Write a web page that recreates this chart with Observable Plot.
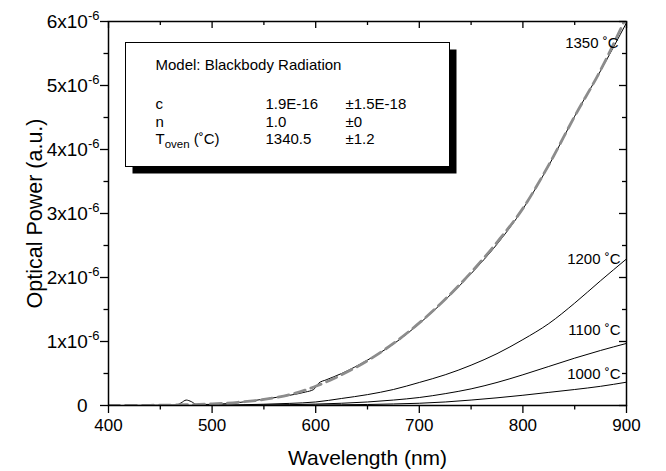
<!DOCTYPE html>
<html>
<head>
<meta charset="utf-8">
<script src="https://cdn.jsdelivr.net/npm/d3@7"></script>
<script src="https://cdn.jsdelivr.net/npm/@observablehq/plot@0.6"></script>
<style>
  html, body { margin: 0; padding: 0; background: #fff; }
  svg { display: block; }
</style>
</head>
<body>
<div id="chart"></div>
<script>
// ---------- data (optical power in units of 1e-6 a.u.) ----------
const wavelengths = [400,425,450,475,500,525,550,575,600,625,650,675,700,725,750,775,800,825,850,875,900];
const power1000 = [0,0,0,0,0,0.001,0.002,0.004,0.007,0.011,0.016,0.024,0.035,0.055,0.085,0.12,0.16,0.205,0.25,0.30,0.364];
const power1100 = [0,0,0,0,0.002,0.004,0.008,0.013,0.022,0.035,0.055,0.085,0.125,0.185,0.26,0.36,0.48,0.61,0.74,0.86,0.97];
const power1200 = [0,0,0,0.002,0.005,0.01,0.02,0.033,0.055,0.11,0.17,0.25,0.36,0.48,0.63,0.81,1.03,1.28,1.60,1.95,2.29];
const wavelengths1350 = [400,425,450,465,470,475,480,485,500,525,550,575,590,598,603,610,625,650,675,700,725,750,775,800,825,850,875,900];
const power1350 = [0,0.002,0.005,0.006,0.04,0.085,0.06,0.015,0.018,0.045,0.10,0.16,0.21,0.25,0.35,0.40,0.50,0.71,0.96,1.28,1.65,2.06,2.52,3.07,3.75,4.52,5.23,5.98];
const powerFit = [0,0.002,0.005,0.012,0.025,0.05,0.095,0.17,0.30,0.48,0.70,0.97,1.29,1.66,2.08,2.55,3.08,3.76,4.52,5.24,6.08];

const seriesLabels = ["1000 ˚C", "1100 ˚C", "1200 ˚C", "1350 ˚C"];
const xMajorTicks = [400,500,600,700,800,900];
const xMinorTicks = [450,550,650,750,850];
const yMajorTicks = [0,1,2,3,4,5,6];
const yMinorTicks = [0.5,1.5,2.5,3.5,4.5,5.5];
const yExponent = "-6";
const xTitle = "Wavelength (nm)";
const yTitle = "Optical Power (a.u.)";

const legendTitle = "Model: Blackbody Radiation";
const paramNames = ["c", "n", "T"];
const paramValues = ["1.9E-16", "1.0", "1340.5"];
const paramErrors = ["±1.5E-18", "±0", "±1.2"];

// ---------- rendering ----------
const FONT = "'Liberation Sans', Arial, Helvetica, sans-serif";

const seriesEnds = [
  {x: wavelengths.at(-1), y: power1000.at(-1), label: seriesLabels[0]},
  {x: wavelengths.at(-1), y: power1100.at(-1), label: seriesLabels[1]},
  {x: wavelengths.at(-1), y: power1200.at(-1), label: seriesLabels[2]},
  {x: wavelengths1350.at(-1), y: power1350.at(-1), label: seriesLabels[3]}
];
// label nudges (pixels)
const labelNudge = [[-6, -3], [-6, -8], [-6, 5], [-8, 25]];

function legendBox(index, scales, values, dims) {
  const g = d3.create("svg:g").attr("font-family", FONT).attr("font-size", 15)
    .attr("fill", "black").attr("text-anchor", "start");
  const x0 = dims.marginLeft + 17.5, y0 = dims.marginTop + 21.5;
  const w = 324, h = 124;
  g.append("rect").attr("x", x0 + 7).attr("y", y0 + 7).attr("width", w).attr("height", h).attr("fill", "black");
  g.append("rect").attr("x", x0).attr("y", y0).attr("width", w).attr("height", h)
    .attr("fill", "white").attr("stroke", "black").attr("stroke-width", 1);
  g.append("text").attr("x", x0 + 30).attr("y", y0 + 27).text(legendTitle);
  const rowY = [66, 84, 101];
  paramNames.forEach((name, i) => {
    const t = g.append("text").attr("x", x0 + 30).attr("y", y0 + rowY[i]);
    if (name === "T") {
      t.append("tspan").text("T");
      t.append("tspan").attr("font-size", 11.5).attr("dy", 4.5).text("oven");
      t.append("tspan").attr("dy", -4.5).text(" (˚C)");
    } else {
      t.text(name);
    }
    g.append("text").attr("x", x0 + 140).attr("y", y0 + rowY[i]).text(paramValues[i]);
    g.append("text").attr("x", x0 + 220).attr("y", y0 + rowY[i]).text(paramErrors[i]);
  });
  return g.node();
}

const tickStroke = 1.3;

const chart = Plot.plot({
  width: 666,
  height: 471,
  marginLeft: 108,
  marginRight: 40,
  marginTop: 21,
  marginBottom: 66,
  style: {fontFamily: FONT, color: "black", background: "white", overflow: "visible"},
  x: {domain: [400, 900]},
  y: {domain: [0, 6]},
  marks: [
    // bottom axis (outward ticks + labels)
    Plot.axisX({ticks: xMajorTicks, tickSize: 8, tickPadding: 5, fontSize: 17, strokeWidth: tickStroke,
      tickFormat: d3.format("d"), label: null}),
    Plot.axisX({ticks: xMinorTicks, tickSize: 4.5, strokeWidth: tickStroke, tickFormat: () => "", label: null}),
    // top axis (inward ticks)
    Plot.axisX({anchor: "bottom", frameAnchor: "top", ticks: xMajorTicks, tickSize: 7, strokeWidth: tickStroke,
      tickFormat: () => "", label: null}),
    Plot.axisX({anchor: "bottom", frameAnchor: "top", ticks: xMinorTicks, tickSize: 4, strokeWidth: tickStroke,
      tickFormat: () => "", label: null}),
    // left axis (outward ticks + labels)
    Plot.axisY({ticks: yMajorTicks, tickSize: 8, tickPadding: 1, fontSize: 19, strokeWidth: tickStroke,
      tickFormat: d => d === 0 ? "0" : `${d}x10`, label: null}),
    Plot.axisY({ticks: yMinorTicks, tickSize: 4.5, strokeWidth: tickStroke, tickFormat: () => "", label: null}),
    // right axis (inward ticks)
    Plot.axisY({anchor: "left", frameAnchor: "right", ticks: yMajorTicks, tickSize: 7, strokeWidth: tickStroke,
      tickFormat: () => "", label: null}),
    Plot.axisY({anchor: "left", frameAnchor: "right", ticks: yMinorTicks, tickSize: 4, strokeWidth: tickStroke,
      tickFormat: () => "", label: null}),
    // axis titles
    Plot.text([xTitle], {frameAnchor: "bottom", textAnchor: "middle", lineAnchor: "bottom", dy: 59, fontSize: 21, text: d => d}),
    Plot.text([yTitle], {frameAnchor: "left", textAnchor: "middle", lineAnchor: "bottom", rotate: -90, dx: -67, fontSize: 21.5, text: d => d}),
    // measured curves
    Plot.line(power1000, {x: wavelengths, y: power1000, stroke: "black", strokeWidth: 1, curve: "monotone-x"}),
    Plot.line(power1100, {x: wavelengths, y: power1100, stroke: "black", strokeWidth: 1, curve: "monotone-x"}),
    Plot.line(power1200, {x: wavelengths, y: power1200, stroke: "black", strokeWidth: 1, curve: "monotone-x"}),
    Plot.line(power1350, {x: wavelengths1350, y: power1350, stroke: "black", strokeWidth: 1, curve: "monotone-x"}),
    // blackbody fit
    Plot.line(powerFit, {x: wavelengths, y: powerFit, stroke: "#8c8c8c", strokeWidth: 2.8,
      strokeDasharray: "11,6", curve: "monotone-x", clip: true}),
    // curve labels
    ...seriesEnds.map((d, i) => Plot.text([d], {x: "x", y: "y", text: "label", textAnchor: "end",
      lineAnchor: "bottom", dx: labelNudge[i][0], dy: labelNudge[i][1], fontSize: 15})),
    // frame and legend
    Plot.frame({stroke: "black", strokeWidth: 1.5}),
    legendBox
  ]
});

// superscript exponent on y tick labels
d3.select(chart).selectAll('g[aria-label="y-axis tick label"] text').each(function() {
  const t = d3.select(this);
  const s = t.text();
  if (s === "0") {
    t.attr("dx", -12);
  } else if (s !== "") {
    t.append("tspan").attr("dy", "-0.6em").attr("font-size", 13).text(yExponent);
  }
});

document.getElementById("chart").appendChild(chart);
</script>
</body>
</html>
